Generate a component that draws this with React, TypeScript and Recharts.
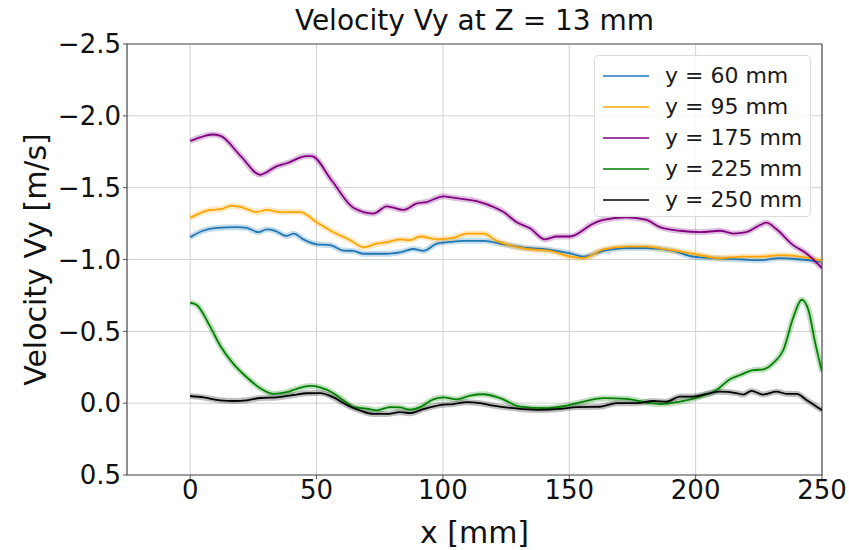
import { LineChart, Line, XAxis, YAxis, CartesianGrid, Legend, ReferenceArea } from 'recharts'

// [x mm, Vy m/s]
const y60: [number, number][] = [
  [0, -1.155], [5, -1.2], [10.6, -1.22], [18.5, -1.225], [22.4, -1.22], [27, -1.19], [30.3, -1.21],
  [33.6, -1.2], [38.2, -1.164], [41, -1.18], [44.8, -1.14], [50, -1.106], [55.4, -1.1], [60.6, -1.062],
  [64.6, -1.06], [68.6, -1.04], [77.8, -1.04], [83, -1.05], [88.3, -1.073], [92.2, -1.06], [97.6, -1.11],
  [104.2, -1.125], [108.2, -1.13], [116, -1.13], [124, -1.106], [133.2, -1.08], [141.1, -1.07],
  [150.3, -1.043], [155.6, -1.02], [163.5, -1.06], [172.7, -1.08], [180.6, -1.08], [191.2, -1.06],
  [199, -1.02], [207, -1.009], [218.8, -1.0], [225.5, -0.995], [233.5, -1.01], [241.4, -1.0], [250, -0.985],
]
const y95: [number, number][] = [
  [0, -1.29], [8, -1.345], [12, -1.35], [16.5, -1.375], [21, -1.36], [26.4, -1.33], [30.3, -1.345],
  [35.6, -1.33], [43.5, -1.33], [50, -1.26], [56.7, -1.19], [63.3, -1.135], [68.6, -1.085], [73.8, -1.11],
  [77.8, -1.12], [83, -1.14], [87, -1.135], [91, -1.16], [97.6, -1.14], [104, -1.15], [109.5, -1.18],
  [116, -1.18], [121.3, -1.13], [133.2, -1.073], [142.4, -1.06], [150.3, -1.02], [155.6, -1.01],
  [163.5, -1.07], [172.7, -1.09], [180.6, -1.09], [188.5, -1.07], [199, -1.04], [209.7, -1.01],
  [218.8, -1.02], [225.5, -1.02], [233.5, -1.03], [241.4, -1.02], [250, -0.99],
]
const y175: [number, number][] = [
  [0, -1.825], [4, -1.85], [8.6, -1.87], [12, -1.86], [20, -1.72], [27.7, -1.59], [34.3, -1.65],
  [38.2, -1.67], [46, -1.72], [48, -1.72], [56, -1.55], [64.6, -1.36], [72.5, -1.32], [77.8, -1.37],
  [84.4, -1.345], [89.7, -1.39], [93.6, -1.4], [100.2, -1.44], [104, -1.43], [114.7, -1.4], [124, -1.33],
  [129.2, -1.26], [134.5, -1.217], [140.4, -1.14], [145, -1.16], [150.3, -1.16], [159.5, -1.25],
  [163.5, -1.275], [172.7, -1.294], [180.6, -1.275], [185.9, -1.225], [193.8, -1.2], [201.7, -1.19],
  [209.7, -1.2], [215, -1.18], [220, -1.19], [225.5, -1.24], [228, -1.256], [232, -1.21], [238.6, -1.1],
  [244, -1.04], [250, -0.94],
]
const y225: [number, number][] = [
  [0, -0.7], [2.6, -0.684], [7.9, -0.533], [11.9, -0.4], [17.1, -0.273], [22.4, -0.18], [27.7, -0.104],
  [33, -0.064], [38.2, -0.076], [42.2, -0.1], [47.5, -0.12], [51.4, -0.11], [56.7, -0.069], [60.6, -0.02],
  [64.6, 0.027], [69.9, 0.038], [73.8, 0.05], [79.1, 0.027], [83, 0.03], [87, 0.045], [91, 0.027],
  [96.2, -0.027], [100.2, -0.04], [105.5, -0.027], [110.8, -0.053], [116, -0.062], [122.6, -0.035],
  [130.5, 0.024], [139.8, 0.035], [149, 0.017], [155.6, -0.01], [163.5, -0.035], [172.7, -0.03],
  [180.6, -0.004], [185.9, 0.006], [193.8, -0.01], [201.7, -0.046], [208.3, -0.092], [213.6, -0.167],
  [217.6, -0.196], [222.8, -0.23], [226.8, -0.235], [230.8, -0.28], [234.7, -0.37], [238.7, -0.6],
  [242, -0.72], [244.6, -0.65], [247.3, -0.42], [250, -0.22],
]
const y250: [number, number][] = [
  [0, -0.05], [5.3, -0.04], [11.9, -0.02], [17.1, -0.015], [22.4, -0.02], [27.7, -0.036], [34.3, -0.04],
  [40.9, -0.057], [46.2, -0.069], [51.4, -0.07], [56.7, -0.04], [62, 0.013], [67.3, 0.052], [72.5, 0.075],
  [77.8, 0.075], [83, 0.063], [87, 0.07], [92.2, 0.042], [98.8, 0.013], [104.2, 0.006], [109.5, -0.007],
  [114.7, 0], [120, 0.017], [127.9, 0.035], [137.1, 0.047], [146.4, 0.04], [153, 0.027], [162.2, 0.025],
  [168.8, 0], [176.7, 0], [183.3, -0.015], [188.5, -0.01], [193.8, -0.046], [199, -0.046], [204.3, -0.064],
  [209.5, -0.08], [216.1, -0.07], [218.8, -0.06], [222.1, -0.085], [226.7, -0.06], [232, -0.08],
  [236, -0.065], [240, -0.064], [244, -0.02], [250, 0.05],
]

const xTicks = [0, 50, 100, 150, 200, 250]
const yTicks = [-2.5, -2.0, -1.5, -1.0, -0.5, 0.0, 0.5]

const series = [
  { name: 'y = 60 mm', pts: y60, color: '#1f77b4' },
  { name: 'y = 95 mm', pts: y95, color: '#ffa500' },
  { name: 'y = 175 mm', pts: y175, color: '#800080' },
  { name: 'y = 225 mm', pts: y225, color: '#008000' },
  { name: 'y = 250 mm', pts: y250, color: '#000000' },
]

const font = '"DejaVu Sans", sans-serif'
const fmt = (v: number) => v.toFixed(1).replace('-', '\u2212')

const LegendBox = () => <div style={{
    position: 'absolute', left: 594, top: 55, width: 217, height: 162, boxSizing: 'border-box',
    padding: '4px 0', border: '1px solid #dcdcdc', borderRadius: 4,
    background: 'rgba(255,255,255,0.8)', fontFamily: font, fontSize: 22, color: '#1a1a1a' }}>
    {series.map(s => <div key={s.name} style={{ display: 'flex', alignItems: 'center', height: 31 }}>
        <span style={{ display: 'inline-block', width: 46, height: 2, background: s.color, opacity: 0.75, marginLeft: 8, marginRight: 16 }} />
        <span>{s.name}</span>
    </div>)}
</div>

export default function App() {
  return <div style={{ position: 'absolute', left: 0, top: 0, width: 849, height: 550, background: '#fff', fontFamily: font }}>
    <div style={{ position: 'absolute', left: 127, width: 695, top: 4, textAlign: 'center', fontSize: 28, color: '#111' }}>
      Velocity Vy at Z = 13 mm
    </div>
    <LineChart width={849} height={550} margin={{ top: 44, right: 27, bottom: 0, left: 0 }}>
      <CartesianGrid stroke="#d0d0d0" strokeWidth={1} />
      <XAxis type="number" dataKey="x" domain={[-25, 250]} ticks={xTicks} allowDataOverflow
        height={75} axisLine={false} tickSize={4} tickLine={{ stroke: '#555' }}
        tick={{ fontSize: 26, fill: '#111', fontFamily: font }}
        label={{ value: 'x [mm]', position: 'center', dy: 20, fontSize: 30, fill: '#111', fontFamily: font }} />
      <YAxis type="number" domain={[-2.5, 0.5]} ticks={yTicks} reversed allowDataOverflow
        width={127} axisLine={false} tickSize={4} tickLine={{ stroke: '#555' }} tickFormatter={fmt}
        tick={{ fontSize: 26, fill: '#111', fontFamily: font }}
        label={{ value: 'Velocity Vy [m/s]', angle: -90, position: 'center', dx: -28, fontSize: 30, fill: '#111', fontFamily: font }} />
      {series.map(s => <Line key={s.name + '-band'} data={s.pts.map(([x, v]) => ({ x, v }))} dataKey="v"
        type="monotone" stroke={s.color} strokeOpacity={0.25} strokeWidth={6} dot={false}
        legendType="none" isAnimationActive={false} />)}
      {series.map(s => <Line key={s.name} name={s.name} data={s.pts.map(([x, v]) => ({ x, v }))} dataKey="v"
        type="monotone" stroke={s.color} strokeWidth={1.8} dot={false} isAnimationActive={false} />)}
      <ReferenceArea x1={-25} x2={250} y1={-2.5} y2={0.5} fill="none" stroke="#555" strokeWidth={1.2} ifOverflow="visible" />
      <Legend content={() => null} />
    </LineChart>
    <LegendBox />
  </div>
}
